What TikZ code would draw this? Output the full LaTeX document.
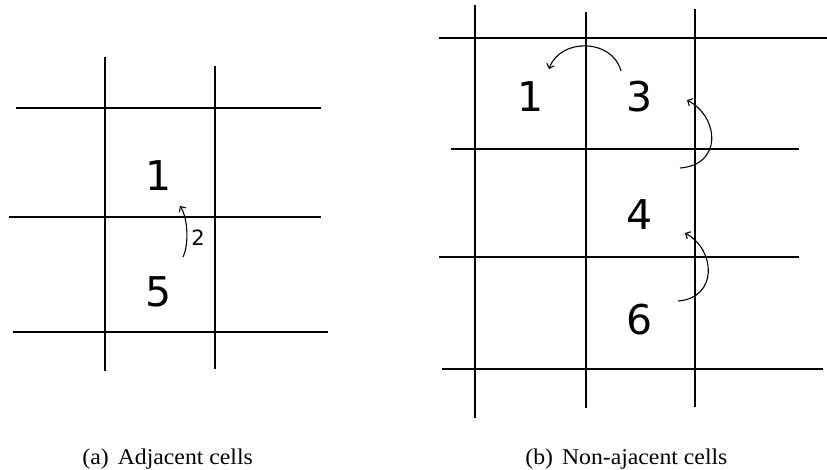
\documentclass[tikz,border=0pt]{standalone}
\usepackage{fontspec}
\setmainfont{Liberation Serif}
\newfontfamily\digitfont{DejaVu Sans}
\usetikzlibrary{arrows.meta}
\begin{document}
\begin{tikzpicture}[x=1pt,y=-1pt,
  gridline/.style={line width=1.7pt},
  num/.style={font=\digitfont\fontsize{41}{41}\selectfont, inner sep=0pt},
  small/.style={font=\digitfont\fontsize{21}{21}\selectfont, inner sep=0pt},
  move/.style={line width=1.1pt, -{Straight Barb[length=4pt,width=8pt,line width=1.1pt]}},
  captext/.style={font=\fontsize{22.5}{22.5}\selectfont, inner sep=0pt, anchor=base}]
\useasboundingbox (0,0) rectangle (827,470);
% ---- left panel
\draw[gridline] (105,57) -- (105,371);
\draw[gridline] (215,66) -- (215,369);
\draw[gridline] (16,107.7) -- (321,107.7);
\draw[gridline] (9,217.3) -- (321,217.3);
\draw[gridline] (13,332) -- (328,332);
\node[num] (a1) at (159,176) {1};
\node[num] (a5) at (159,292) {5};
\coordinate (as) at (183,257);
\coordinate (ae) at (180,206);
\draw[move] (as) .. controls (189,245) and (188,218) .. (ae);
\node[small] (a2) at (198,238) {2};
% ---- right panel
\draw[gridline] (475,5) -- (475,418);
\draw[gridline] (586,12) -- (586,408);
\draw[gridline] (695,9) -- (695,407);
\draw[gridline] (439,38) -- (827,38);
\draw[gridline] (451,149) -- (799,149);
\draw[gridline] (439,257) -- (799,257);
\draw[gridline] (442,369) -- (823,369);
\node[num] (b1) at (531,97) {1};
\node[num] (b3) at (640,97) {3};
\node[num] (b4) at (640,215) {4};
\node[num] (b6) at (640,320) {6};
\coordinate (s31) at (621,71);
\coordinate (e31) at (549,69);
\draw[move] (s31) .. controls (612,38) and (560,38) .. (e31);
\coordinate (s43) at (680,168);
\coordinate (e43) at (687,100);
\draw[move] (s43) .. controls (722,165) and (720,118) .. (e43);
\coordinate (s64) at (678,301);
\coordinate (e64) at (685,233);
\draw[move] (s64) .. controls (718,298) and (716,250) .. (e64);
% ---- captions
\node[captext] (capa) at (167.7,464) {\scalebox{1.055}[1]{(a)\hspace{8.5pt}Adjacent cells}};
\node[captext] (capb) at (626.4,464) {\scalebox{1.055}[1]{(b)\hspace{8.5pt}Non-ajacent cells}};
\end{tikzpicture}
\end{document}
